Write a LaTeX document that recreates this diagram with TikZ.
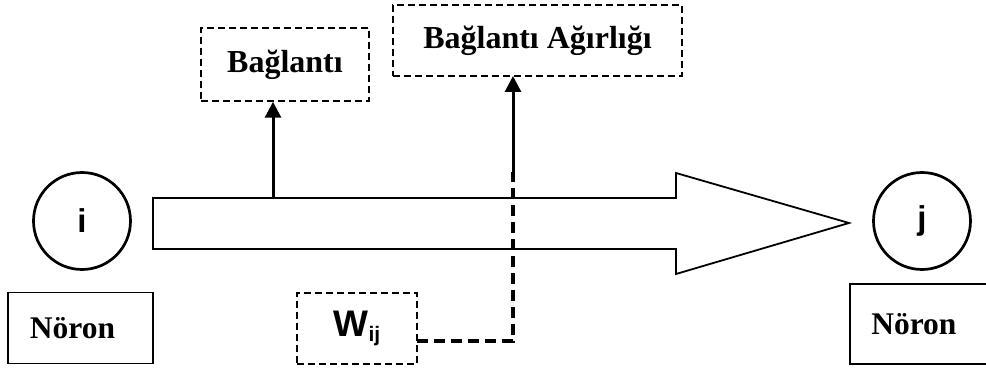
\documentclass[tikz,border=0pt]{standalone}
\usepackage{fontspec}
\setmainfont{Liberation Serif}
\newfontfamily\arialf{Liberation Sans}
\usetikzlibrary{arrows.meta}
\tikzset{
  neuron/.style={circle, draw, line width=2.7pt, minimum size=97pt, inner sep=0pt,
    font=\arialf\bfseries\fontsize{33}{33}\selectfont},
  labelbox/.style={draw, line width=1.8pt, inner sep=0pt,
    font=\bfseries\fontsize{31.5}{31.5}\selectfont},
  dashbox/.style={draw, line width=1.5pt, dash pattern=on 7pt off 4pt, inner sep=0pt,
    font=\bfseries\fontsize{32}{32}\selectfont},
  bigarrow/.style={draw, line width=1.8pt, line join=miter},
  uparrow/.style={line width=3pt, -{Triangle[length=16pt,width=16pt]}},
  thickdash/.style={line width=3.5pt, dash pattern=on 11pt off 6pt}
}
\begin{document}
\begin{tikzpicture}[x=1pt,y=-1pt]
\useasboundingbox (0,0) rectangle (986,371);
% neurons
\node[neuron] (ni) at (82,221) {i};
\node[neuron] (nj) at (922,221) {j};
% label boxes
\node[labelbox, minimum width=145pt, minimum height=71pt] (lab1) at (80.5,328) {\hspace*{-16pt}Nöron};
\node[labelbox, minimum width=143pt, minimum height=80pt, anchor=north west] (lab2) at (849,283) {\hspace*{-15pt}Nöron};
% big arrow
\draw[bigarrow] (153,198) -- (676,198) -- (676,173) -- (849,223) -- (676,274) -- (676,249) -- (153,249) -- cycle;
\coordinate (bstart) at (273,198);
\coordinate (wstart) at (513,172);
% dashed boxes
\node[dashbox, minimum width=168pt, minimum height=73pt] (bag) at (285,64.5) {Bağlantı};
\node[dashbox, minimum width=289pt, minimum height=71pt] (agir) at (537.5,40.5) {Bağlantı Ağırlığı};
\node[dashbox, minimum width=120pt, minimum height=71pt] (wij) at (357,328.5)
  {\arialf\bfseries\fontsize{37}{37}\selectfont W\raisebox{-5pt}{\fontsize{21}{21}\selectfont ij}};
\coordinate (aginto) at (513,76);
\coordinate (wout) at (417,341);
% connectors
\draw[uparrow] (bstart) -- (bag.south -| bstart);
\draw[thickdash] (wout) -| (wstart);
\draw[uparrow] (wstart) -- (aginto);
\end{tikzpicture}
\end{document}
